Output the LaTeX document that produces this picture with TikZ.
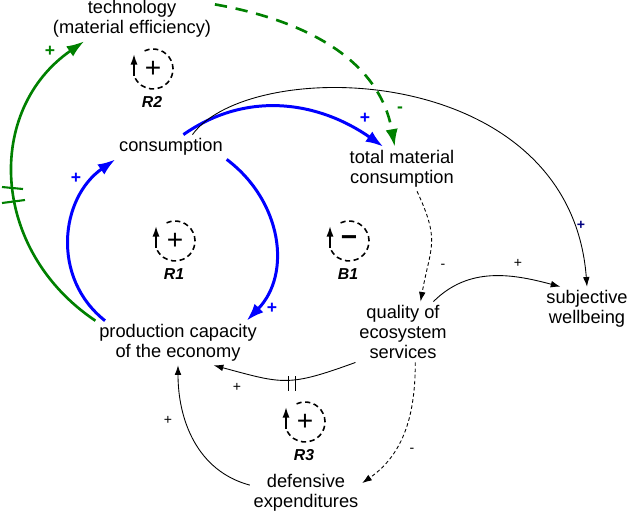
\documentclass[tikz,border=0pt]{standalone}
\usepackage{fontspec}
\setmainfont{Liberation Sans}
\usetikzlibrary{arrows.meta}
\definecolor{cldblue}{RGB}{0,0,255}
\definecolor{cldgreen}{RGB}{0,128,0}
\definecolor{cldnavy}{RGB}{0,0,128}

\begin{document}
\begin{tikzpicture}[x=0.02cm,y=0.02cm,>={Latex[length=5.5pt,width=3.8pt]},
        var/.style={align=center,inner sep=2pt,font=\fontsize{10.4}{11.3}\selectfont},
        link/.style={->,line width=0.5pt},
        dotlink/.style={->,line width=0.5pt,dash pattern=on 2pt off 1.5pt},
        bluelink/.style={-{Latex[length=10pt,width=7pt]},line width=1.7pt,cldblue},
        greenlink/.style={-{Latex[length=10pt,width=7pt]},line width=1.5pt,cldgreen},
        sign/.style={inner sep=0pt,font=\fontsize{8}{8}\selectfont},
        bigsign/.style={inner sep=0pt,font=\bfseries\fontsize{10}{10}\selectfont}]
        \useasboundingbox (0,0) rectangle (628,-512);
        % variables
        \node[var] (tech) at (132,-19) {technology\\(material efficiency)};
        \node[var] (cons) at (171,-147) {consumption};
        \node[var] (total) at (402,-169) {total material\\consumption};
        \node[var] (prod) at (178,-343) {production capacity\\of the economy};
        \node[var] (qual) at (403,-332) {quality of\\ecosystem\\services};
        \node[var] (well) at (587,-309) {subjective\\wellbeing};
        \node[var] (def) at (306,-493) {defensive\\expenditures};
        % loops
        \foreach \cx/\cy/\s/\l in {153/69/+/R2,175/241/+/R1,349/241/{\bfseries −}/B1,305/422/+/R3}
        {
            \draw[line width=0.9pt,dash pattern=on 3pt off 2pt] (\cx,-\cy)++(115:20) arc (115:-160:20);
            \draw[-{Latex[length=6pt,width=4pt]},line width=0.9pt] (\cx-19,-\cy-7)--(\cx-19,-\cy+15);
            \node[inner sep=0pt,font=\fontsize{16}{16}\selectfont] (\l sign) at (\cx,-\cy) {\s};
            \node[inner sep=0pt,font=\bfseries\itshape\fontsize{9}{9}\selectfont] (\l) at (\cx-1,-\cy-33) {\l};
        }
        % green links
        \draw[greenlink] (prod.north west) .. controls (-10,-250) and (-15,-110) .. (tech.205);
        \draw[cldgreen,line width=1.2pt] (2,-187)--(23,-189);
        \draw[cldgreen,line width=1.2pt] (2,-203)--(25,-200);
        \draw[greenlink,dash pattern=on 7pt off 5pt] (tech.10) to[out=-10,in=100] (total.108);
        \node[bigsign,text=cldgreen] (gplus) at (50,-51) {+};
        \node[bigsign,text=cldgreen] (gminus) at (400,-110) {-};
        % blue links
        \draw[bluelink] (cons.45) to[out=35,in=145] (total.130);
        \draw[bluelink] (cons.south east) .. controls (282,-201) and (292,-274) .. (prod.18);
        \draw[bluelink] (prod.163) .. controls (51,-278) and (60,-198) .. (cons.south west);
        \node[bigsign,text=cldblue] (bplus1) at (365,-118) {+};
        \node[bigsign,text=cldblue] (bplus2) at (76,-178) {+};
        \node[bigsign,text=cldblue] (bplus3) at (272,-308) {+};
        % thin links
        \draw[link] (cons.30) .. controls (250,-55) and (570,-60) .. (well.north);
        \draw[dotlink] (total.-56) to[out=-65,in=80,looseness=1.3] (qual.60);
        \draw[link] (qual.45) to[out=45,in=165] (well.140);
        \draw[link] (qual.south west) to[out=200,in=-15,looseness=1.3] (prod.-32);
        \draw[line width=0.5pt] (288,-376)--(288,-391);
        \draw[line width=0.5pt] (295,-376)--(295,-391);
        \draw[dotlink] (qual.-68) to[out=-90,in=35] (def.10);
        \draw[link] (def.172) to[out=165,in=-90] (prod.south);
        \node[bigsign,text=cldnavy,font=\bfseries\fontsize{8}{8}\selectfont] (nplus) at (581,-225) {+};
        \node[sign] (m1) at (443,-266) {-};
        \node[sign] (p1) at (518,-263) {+};
        \node[sign] (p2) at (237,-387) {+};
        \node[sign] (p3) at (168,-420) {+};
        \node[sign] (m2) at (412,-450) {-};
    \end{tikzpicture}
\end{document}
